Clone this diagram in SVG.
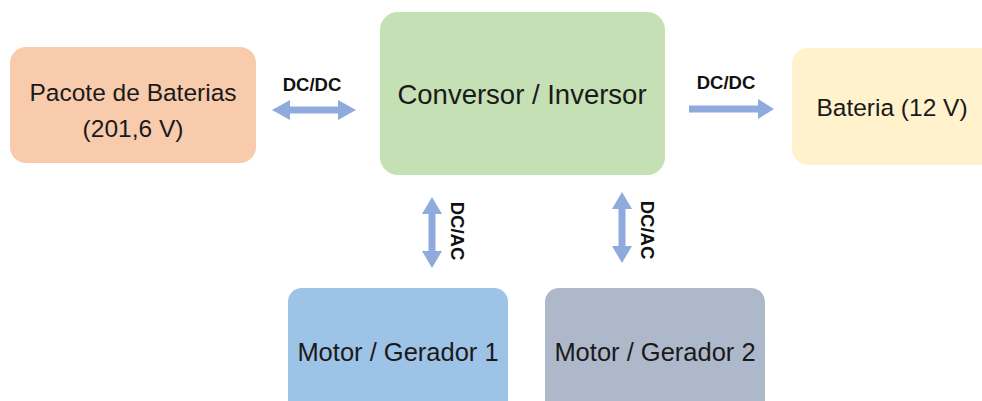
<svg xmlns="http://www.w3.org/2000/svg" width="982" height="401" viewBox="0 0 982 401">
<style>
.lbl{font-family:"Liberation Sans",Arial,sans-serif;font-size:24.5px;fill:#1a1a1a;text-anchor:middle}
.conn{font-family:"Liberation Sans",Arial,sans-serif;font-size:18.5px;font-weight:bold;fill:#111;text-anchor:middle}
.arr{fill:#8FAADC}
</style>
<rect width="982" height="401" fill="#ffffff"/>
<g id="pacote">
<rect x="10" y="47" width="246" height="116" rx="16" fill="#F8CBAD"/>
<text class="lbl" x="133" y="101">Pacote de Baterias</text>
<text class="lbl" x="133" y="137">(201,6 V)</text>
</g>
<g id="conversor">
<rect x="380" y="12" width="285" height="163" rx="18" fill="#C5E0B4"/>
<text class="lbl" x="522" y="104" style="font-size:27.5px">Conversor / Inversor</text>
</g>
<g id="bateria">
<rect x="792" y="48" width="210" height="117" rx="16" fill="#FFF2CC"/>
<text class="lbl" x="892" y="116">Bateria (12 V)</text>
</g>
<g id="motor1">
<rect x="288" y="288" width="220" height="130" rx="14" fill="#9DC3E6"/>
<text class="lbl" x="398" y="361" style="font-size:25.5px">Motor / Gerador 1</text>
</g>
<g id="motor2">
<rect x="545" y="288" width="220" height="130" rx="14" fill="#ADB9CA"/>
<text class="lbl" x="655" y="361" style="font-size:25.5px">Motor / Gerador 2</text>
</g>
<g id="connectors">
<polygon class="arr" points="272,110 290,100 290,106.5 338,106.5 338,100 356,110 338,120 338,113.5 290,113.5 290,120"/>
<text class="conn" x="312" y="91">DC/DC</text>
<polygon class="arr" points="689,105.5 758,105.5 758,99 774,109 758,119 758,112.5 689,112.5"/>
<text class="conn" x="726" y="89">DC/DC</text>
<polygon class="arr" points="432,197 442,214 435.5,214 435.5,251 442,251 432,268 422,251 428.5,251 428.5,214 422,214"/>
<text class="conn" transform="translate(451,231) rotate(90)" x="0" y="0">DC/AC</text>
<polygon class="arr" points="622,192 632,209 625.5,209 625.5,246 632,246 622,263 612,246 618.5,246 618.5,209 612,209"/>
<text class="conn" transform="translate(641,230) rotate(90)" x="0" y="0">DC/AC</text>
</g>
</svg>
